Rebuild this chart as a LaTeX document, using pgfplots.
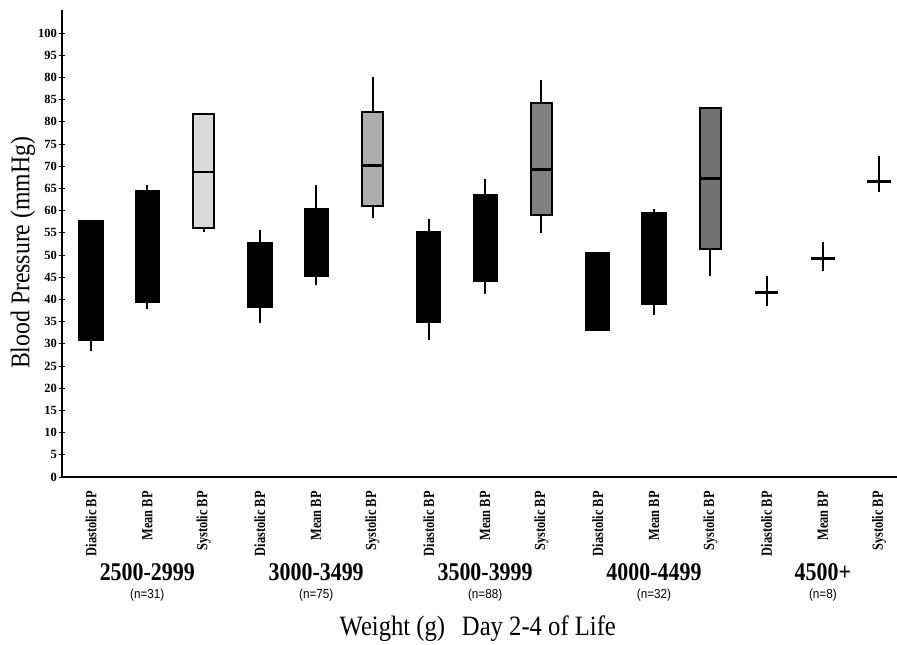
\documentclass[border=0pt]{standalone}
\usepackage{pgfplots}
\pgfplotsset{compat=1.18}
\usepackage{fontspec}
\setmainfont{Liberation Serif}
\newfontfamily\condserif[FakeStretch=0.88]{Liberation Serif}
\newfontfamily\narrowserif[FakeStretch=0.8]{Liberation Serif}
\newfontfamily\groupserif[FakeStretch=0.86]{Liberation Serif}
\newfontfamily\labsans[FakeStretch=0.9]{Liberation Sans}
\definecolor{sysA}{gray}{0.85}
\definecolor{sysB}{gray}{0.68}
\definecolor{sysC}{gray}{0.5}
\definecolor{sysD}{gray}{0.45}
\begin{document}
\begin{tikzpicture}
\begin{axis}[
  name=ax,
  scale only axis,
  width=835pt, height=467pt,
  xmin=-0.515, xmax=14.316,
  ymin=0, ymax=105.2,
  axis x line*=bottom, axis y line*=left,
  axis line style={line width=1.6pt},
  xtick={0,...,14},
  xticklabels={Diastolic BP,Mean BP,Systolic BP,Diastolic BP,Mean BP,Systolic BP,Diastolic BP,Mean BP,Systolic BP,Diastolic BP,Mean BP,Systolic BP,Diastolic BP,Mean BP,Systolic BP},
  xtick style={draw=none},
  minor xtick={0.5,1.5,...,13.5},
  minor x tick style={black, line width=1.4pt},
  minor tick length=9pt,
  tick align=center,
  xticklabel style={rotate=90, anchor=east, inner sep=0pt, font=\narrowserif\bfseries\fontsize{15.5}{16}\selectfont},
  xticklabel shift=11pt,
  ytick={0,5,...,100},
  yticklabels={0,5,10,15,20,25,30,35,40,45,50,55,60,65,70,75,80,85,80,95,100},
  ytick style={black, line width=1pt},
  major tick length=6pt,
  yticklabel style={inner sep=0pt, font=\bfseries\fontsize{12.5}{14}\selectfont},
  yticklabel shift=2pt,
  ylabel={Blood Pressure (mmHg)},
  ylabel style={at={(axis description cs:-0.0467,0.48)}, anchor=center, font=\condserif\fontsize{27}{30}\selectfont},
  xlabel={Weight (g)\hspace{0.6em}Day 2-4 of Life},
  xlabel style={at={(axis description cs:0.498,0)}, anchor=center, yshift=-152pt, font=\condserif\fontsize{28}{30}\selectfont},
  clip=false,
  whisk/.style={black, line width=2pt},
  blackbox/.style={draw=black, fill=black, line width=1pt},
  sysbox/.style={draw=black, line width=2pt},
  med/.style={black, line width=2.8pt},
]
% ===== Group 1: 2500-2999 =====
% Diastolic (lw 28.3, lq 30.8, med 44.2, uq 57.8, uw 57.8)
\addplot[whisk] coordinates {(0,28.3) (0,57.8)};
\addplot[blackbox] coordinates {(-0.215,30.8) (0.215,30.8) (0.215,57.8) (-0.215,57.8)} -- cycle;
% Mean (37.8, 39.2, 51.4, 64.6, 65.8)
\addplot[whisk] coordinates {(1,37.8) (1,65.8)};
\addplot[blackbox] coordinates {(0.785,39.2) (1.215,39.2) (1.215,64.6) (0.785,64.6)} -- cycle;
% Systolic (55.2, 56.0, 68.7, 81.8, 81.8)
\addplot[whisk] coordinates {(2,55.2) (2,81.8)};
\addplot[sysbox, fill=sysA] coordinates {(1.815,56.0) (2.185,56.0) (2.185,81.8) (1.815,81.8)} -- cycle;
\addplot[med] coordinates {(1.815,68.7) (2.185,68.7)};
% ===== Group 2: 3000-3499 =====
\addplot[whisk] coordinates {(3,34.7) (3,55.7)};
\addplot[blackbox] coordinates {(2.785,38.1) (3.215,38.1) (3.215,52.9) (2.785,52.9)} -- cycle;
\addplot[whisk] coordinates {(4,43.3) (4,65.7)};
\addplot[blackbox] coordinates {(3.785,45.2) (4.215,45.2) (4.215,60.4) (3.785,60.4)} -- cycle;
\addplot[whisk] coordinates {(5,58.3) (5,90.0)};
\addplot[sysbox, fill=sysB] coordinates {(4.815,61.1) (5.185,61.1) (5.185,82.2) (4.815,82.2)} -- cycle;
\addplot[med] coordinates {(4.815,70.1) (5.185,70.1)};
% ===== Group 3: 3500-3999 =====
\addplot[whisk] coordinates {(6,30.9) (6,58.1)};
\addplot[blackbox] coordinates {(5.785,34.7) (6.215,34.7) (6.215,55.3) (5.785,55.3)} -- cycle;
\addplot[whisk] coordinates {(7,41.3) (7,67.2)};
\addplot[blackbox] coordinates {(6.785,44.1) (7.215,44.1) (7.215,63.6) (6.785,63.6)} -- cycle;
\addplot[whisk] coordinates {(8,55.0) (8,89.5)};
\addplot[sysbox, fill=sysC] coordinates {(7.815,59.1) (8.185,59.1) (8.185,84.2) (7.815,84.2)} -- cycle;
\addplot[med] coordinates {(7.815,69.2) (8.185,69.2)};
% ===== Group 4: 4000-4499 =====
\addplot[blackbox] coordinates {(8.785,33.0) (9.215,33.0) (9.215,50.5) (8.785,50.5)} -- cycle;
\addplot[whisk] coordinates {(10,36.6) (10,60.4)};
\addplot[blackbox] coordinates {(9.785,38.8) (10.215,38.8) (10.215,59.6) (9.785,59.6)} -- cycle;
\addplot[whisk] coordinates {(11,45.2) (11,83.1)};
\addplot[sysbox, fill=sysD] coordinates {(10.815,51.4) (11.185,51.4) (11.185,83.1) (10.815,83.1)} -- cycle;
\addplot[med] coordinates {(10.815,67.3) (11.185,67.3)};
% ===== Group 5: 4500+ (crosses) =====
\addplot[whisk] coordinates {(12,38.6) (12,45.3)};
\addplot[med] coordinates {(11.79,41.6) (12.21,41.6)};
\addplot[whisk] coordinates {(13,46.3) (13,52.9)};
\addplot[med] coordinates {(12.79,49.3) (13.21,49.3)};
\addplot[whisk] coordinates {(14,64.3) (14,72.2)};
\addplot[med] coordinates {(13.79,66.6) (14.21,66.6)};
% group labels
\node[font=\groupserif\bfseries\fontsize{25.5}{27}\selectfont] at ([yshift=-95pt]axis cs:1,0) {2500-2999};
\node[font=\groupserif\bfseries\fontsize{25.5}{27}\selectfont] at ([yshift=-95pt]axis cs:4,0) {3000-3499};
\node[font=\groupserif\bfseries\fontsize{25.5}{27}\selectfont] at ([yshift=-95pt]axis cs:7,0) {3500-3999};
\node[font=\groupserif\bfseries\fontsize{25.5}{27}\selectfont] at ([yshift=-95pt]axis cs:10,0) {4000-4499};
\node[font=\groupserif\bfseries\fontsize{25.5}{27}\selectfont] at ([yshift=-95pt]axis cs:13,0) {4500+};
\node[font=\labsans\fontsize{13}{14}\selectfont] at ([yshift=-118pt]axis cs:1,0) {(n=31)};
\node[font=\labsans\fontsize{13}{14}\selectfont] at ([yshift=-118pt]axis cs:4,0) {(n=75)};
\node[font=\labsans\fontsize{13}{14}\selectfont] at ([yshift=-118pt]axis cs:7,0) {(n=88)};
\node[font=\labsans\fontsize{13}{14}\selectfont] at ([yshift=-118pt]axis cs:10,0) {(n=32)};
\node[font=\labsans\fontsize{13}{14}\selectfont] at ([yshift=-118pt]axis cs:13,0) {(n=8)};
\end{axis}
\pgfresetboundingbox
\path ([xshift=-62pt,yshift=-168pt]ax.south west) rectangle ([yshift=10pt]ax.north east);
\end{tikzpicture}
\end{document}
